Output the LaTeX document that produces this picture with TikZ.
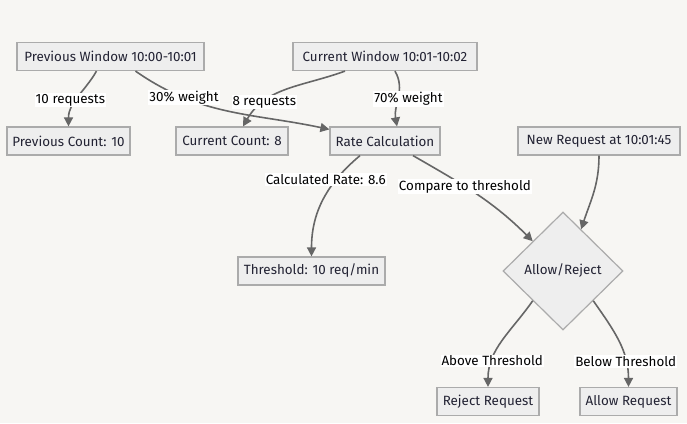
\documentclass[tikz,border=0pt]{standalone}
\usepackage{fontspec}
\setmainfont{Fira Sans}
\usetikzlibrary{arrows.meta,shapes.geometric,calc}

\definecolor{paper}{HTML}{F7F6F3}
\definecolor{boxfill}{HTML}{EEEEEE}
\definecolor{boxline}{HTML}{ABABAB}
\definecolor{flowline}{HTML}{666666}
\definecolor{ink}{HTML}{222233}

\tikzset{
  stepbox/.style={draw=boxline, fill=boxfill, line width=1.2pt, text=ink,
    minimum height=28pt, inner xsep=3pt, font=\fontsize{13.4}{15}\selectfont},
  choice/.style={diamond, draw=boxline, fill=boxfill, line width=1.2pt, text=ink,
    minimum width=120pt, minimum height=118pt, inner sep=0pt,
    font=\fontsize{13.4}{15}\selectfont},
  flow/.style={draw=flowline, line width=1.6pt,
    -{Triangle[length=9pt,width=9pt]}},
  lbl/.style={fill=white, inner sep=1pt, text=black,
    font=\fontsize{13.4}{15}\selectfont}
}

\begin{document}
\begin{tikzpicture}[x=1pt,y=-1pt]

% canvas
\fill[paper] (0,0) rectangle (687,423);
\useasboundingbox (0,0) rectangle (687,423);

% the windows
\node[stepbox, minimum width=187pt] (prevwin) at (110.5,56.5) {Previous Window 10:00-10:01};
\node[stepbox, minimum width=184pt] (curwin) at (385,56.5) {Current Window 10:01-10:02};

% counts and rate
\node[stepbox, minimum width=123pt] (prevcnt) at (68.5,141) {Previous Count: 10};
\node[stepbox, minimum width=112pt] (curcnt) at (232,141) {Current Count: 8};
\node[stepbox, minimum width=110pt] (rate) at (385,141) {Rate Calculation};
\node[stepbox, minimum width=162pt] (newreq) at (599,141) {New Request at 10:01:45};

% threshold and decision
\node[stepbox, minimum width=147pt] (thresh) at (311.5,271) {Threshold: 10 req/min};
\node[choice] (decide) at (563,271) {Allow/Reject};

% outcomes
\node[stepbox, minimum width=102pt] (reject) at (488,401.5) {Reject Request};
\node[stepbox, minimum width=97pt] (allow) at (628.5,401.5) {Allow Request};

% connectors
\draw[flow] ([xshift=-14pt]prevwin.south) to[out=-120, in=90]
  node[lbl, pos=0.55, xshift=-6pt] {10 requests} (prevcnt.north);
\draw[flow] ([xshift=25pt]prevwin.south) to[out=-35, in=168]
  node[lbl, pos=0.26] {30\% weight} ([yshift=-3pt]rate.north west);
\draw[flow] ([xshift=-40pt]curwin.south) to[out=-160, in=60]
  node[lbl, pos=0.73] {8 requests} ([xshift=11pt]curcnt.north);
\draw[flow] ([xshift=10pt]curwin.south) to[out=-60, in=100]
  node[lbl, pos=0.52, xshift=10pt] {70\% weight} ([xshift=12pt]rate.north);
\draw[flow] ([xshift=-25pt]rate.south) to[out=-140, in=90]
  node[lbl, pos=0.3, xshift=-9pt, yshift=2pt] {Calculated Rate: 8.6} (thresh.north);
\draw[flow] ([xshift=28pt]rate.south) to[out=-30, in=135]
  node[lbl, pos=0.4] {Compare to threshold} (decide.north west);
\draw[flow] (newreq.south) to[out=-90, in=72]
  ($(decide.north)!0.3!(decide.east)$);
\draw[flow] (decide.south west) to[out=-125, in=90]
  node[lbl, pos=0.74] {Above Threshold} (reject.north);
\draw[flow] (decide.south east) to[out=-55, in=90]
  node[lbl, pos=0.74] {Below Threshold} (allow.north);

\end{tikzpicture}
\end{document}
